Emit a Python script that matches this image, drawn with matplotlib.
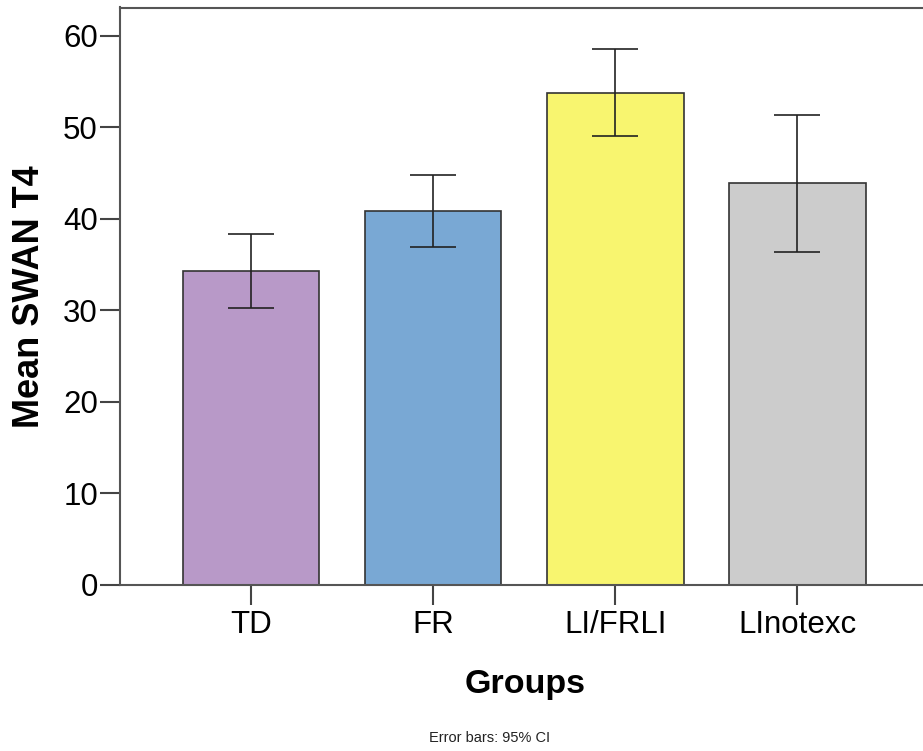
import matplotlib
matplotlib.use("Agg")
import matplotlib.pyplot as plt
import numpy as np

plt.rcParams['font.family'] = ['Liberation Sans', 'DejaVu Sans']

groups = ["TD", "FR", "LI/FRLI", "LInotexc"]
means = [34.3, 40.9, 53.8, 43.9]
ci_low = [30.3, 36.9, 49.1, 36.4]
ci_high = [38.3, 44.8, 58.6, 51.4]
colors = ["#B899C8", "#79A8D4", "#F8F56F", "#CCCCCC"]
yticks = [0, 10, 20, 30, 40, 50, 60]

fig = plt.figure(figsize=(9.23, 7.51), dpi=100)
ax = fig.add_axes([120/923, (751-585)/751, 1 - 120/923, (585-7.5)/751])

x = np.arange(len(groups))
means_a = np.array(means)
yerr = np.vstack([means_a - np.array(ci_low), np.array(ci_high) - means_a])
ax.bar(x, means, width=0.75, color=colors, edgecolor="#333333", linewidth=1.2, zorder=2)
ax.errorbar(x, means, yerr=yerr, fmt="none", ecolor="#222222", elinewidth=1.2,
            capsize=16.5, capthick=1.2, zorder=3)

ax.set_xlim(-0.72, 3.69)
ax.set_ylim(0, 63.1)
ax.set_yticks(yticks)
ax.set_xticks(x)
ax.set_xticklabels(groups)
ax.tick_params(axis="both", labelsize=22.5, width=1.5, color="#444444", length=14.4)
ax.tick_params(axis="y", pad=1.5)
ax.tick_params(axis="x", pad=3.6)
for s in ["left", "top", "bottom"]:
    ax.spines[s].set_color("#555555")
    ax.spines[s].set_linewidth(1.5)
ax.spines["right"].set_visible(False)

ax.set_ylabel("Mean SWAN T4", fontsize=26, fontweight="bold")
ax.yaxis.label.set_va("baseline")
ax.yaxis.set_label_coords(-0.1009, 0.5)
ax.set_xlabel("Groups", fontsize=24.5, fontweight="bold")
ax.xaxis.label.set_va("baseline")
ax.xaxis.set_label_coords(0.504, -0.187)
fig.text(490/923, 1 - 738/751, "Error bars: 95% CI", fontsize=10.5, ha="center", va="center", color="#222222")

fig.savefig("out.png", dpi=100)
